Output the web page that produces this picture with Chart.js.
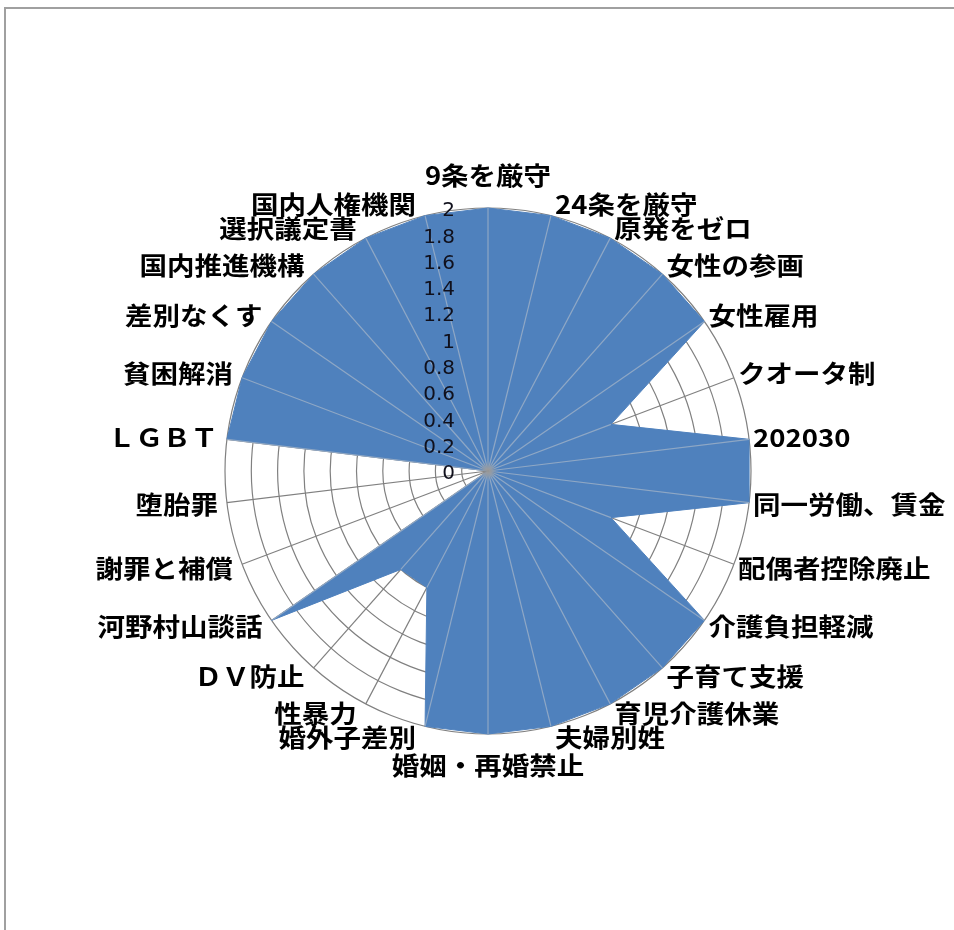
<!DOCTYPE html>
<html>
<head>
<meta charset="utf-8">
<script src="https://cdn.jsdelivr.net/npm/chart.js@4/dist/chart.umd.min.js"></script>
<style>
  html, body { margin: 0; padding: 0; background: #ffffff; }
  #wrap { position: relative; width: 954px; height: 930px; overflow: hidden; }
  #frame { position: absolute; left: 4px; top: 7px; width: 960px; height: 940px;
           border-top: 2px solid #a0a0a0; border-left: 2px solid #a0a0a0; }
  canvas { position: absolute; left: 0; top: 0; }
</style>
</head>
<body>
<div id="wrap">
  <div id="frame"></div>
  <canvas id="c" width="954" height="930"></canvas>
</div>
<script>
const categories = [
  '9条を厳守', '24条を厳守', '原発をゼロ', '女性の参画', '女性雇用', 'クオータ制',
  '202030', '同一労働、賃金', '配偶者控除廃止', '介護負担軽減', '子育て支援',
  '育児介護休業', '夫婦別姓', '婚姻・再婚禁止', '婚外子差別', '性暴力', 'ＤＶ防止',
  '河野村山談話', '謝罪と補償', '堕胎罪', 'ＬＧＢＴ', '貧困解消', '差別なくす',
  '国内推進機構', '選択議定書', '国内人権機関'
];
const seriesValues = [
  2, 2, 2, 2, 2, 1,
  2, 2, 1, 2, 2,
  2, 2, 2, 2, 1, 1,
  2, 0, 0, 2, 2, 2,
  2, 2, 2
];
const tickLabels = ['0', '0.2', '0.4', '0.6', '0.8', '1', '1.2', '1.4', '1.6', '1.8', '2'];

const FILL = '#4F81BD';
const GRID = '#808080';

// Lighter spokes drawn on top of the filled area, tick labels and category labels
const overlay = {
  id: 'overlay',
  afterDatasetsDraw(chart) {
    const s = chart.scales.r;
    const ctx = chart.ctx;
    const cx = s.xCenter, cy = s.yCenter;
    ctx.save();
    // spokes inside the fill
    ctx.strokeStyle = 'rgba(205,205,205,0.5)';
    ctx.lineWidth = 1.2;
    seriesValues.forEach((v, i) => {
      const p = s.getPointPosition(i, s.getDistanceFromCenterForValue(v));
      ctx.beginPath();
      ctx.moveTo(cx, cy);
      ctx.lineTo(p.x, p.y);
      ctx.stroke();
    });
    // grey hub where the spokes meet
    const g = ctx.createRadialGradient(cx, cy, 0, cx, cy, 9);
    g.addColorStop(0, 'rgba(140,140,140,0.9)');
    g.addColorStop(1, 'rgba(140,140,140,0)');
    ctx.fillStyle = g;
    ctx.beginPath();
    ctx.arc(cx, cy, 9, 0, Math.PI * 2);
    ctx.fill();
    // tick labels
    ctx.fillStyle = '#10101c';
    ctx.font = '20px "DejaVu Sans", sans-serif';
    ctx.textAlign = 'right';
    ctx.textBaseline = 'middle';
    s.ticks.forEach((t) => {
      const r = s.getDistanceFromCenterForValue(t.value);
      ctx.fillText(t.label, cx - 33, cy - r + 3);
    });
    // category labels
    ctx.fillStyle = '#000000';
    ctx.font = 'bold 25px "Noto Sans CJK JP", sans-serif';
    ctx.textBaseline = 'middle';
    categories.forEach((label, i) => {
      const a = s.getIndexAngle(i);
      const deg = Math.round(a * 180 / Math.PI) % 360;
      const p = s.getPointPosition(i, s.drawingArea);
      let x = p.x, y = p.y, align;
      if (deg === 0) { align = 'center'; y = p.y - 33; }
      else if (deg === 180) { align = 'center'; y = p.y + 31; }
      else if (deg < 180) { align = 'left'; x = p.x + 4; y = p.y - 11 * Math.cos(a); }
      else { align = 'right'; x = p.x - 9; y = p.y - 11 * Math.cos(a); }
      ctx.save();
      ctx.translate(x, y);
      ctx.scale(1.1, 1);
      ctx.textAlign = align;
      ctx.fillText(label, 0, 0);
      ctx.restore();
    });
    ctx.restore();
  }
};

new Chart(document.getElementById('c'), {
  type: 'radar',
  data: {
    labels: categories,
    datasets: [{
      data: seriesValues,
      fill: true,
      backgroundColor: FILL,
      borderColor: FILL,
      borderWidth: 1,
      pointRadius: 0,
      pointHoverRadius: 0
    }]
  },
  options: {
    responsive: false,
    animation: false,
    layout: { padding: { left: 225, right: 203, top: 208, bottom: 196 } },
    plugins: { legend: { display: false }, tooltip: { enabled: false } },
    scales: {
      r: {
        min: 0,
        max: 2,
        ticks: {
          stepSize: 0.2,
          display: false,
          callback: (v, i) => tickLabels[i]
        },
        grid: { circular: true, color: GRID, lineWidth: 1.2 },
        angleLines: { display: true, color: GRID, lineWidth: 1.2 },
        pointLabels: { display: false }
      }
    }
  },
  plugins: [overlay]
});
</script>
</body>
</html>
